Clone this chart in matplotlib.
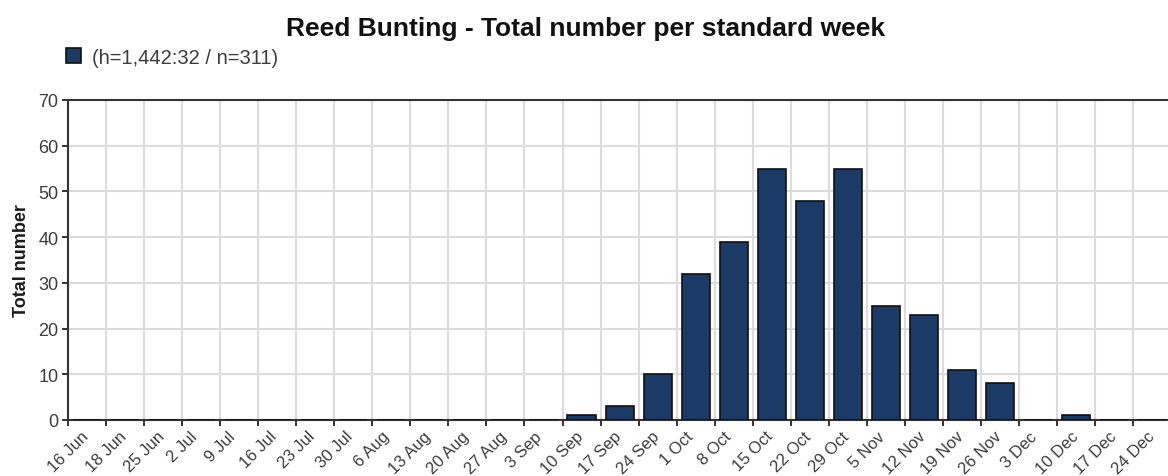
import matplotlib.pyplot as plt
import numpy as np

plt.rcParams['font.family'] = ['Liberation Sans', 'DejaVu Sans']

# weekly categories and counts
weeks = ['16 Jun', '18 Jun', '25 Jun', '2 Jul', '9 Jul', '16 Jul', '23 Jul', '30 Jul',
         '6 Aug', '13 Aug', '20 Aug', '27 Aug', '3 Sep', '10 Sep', '17 Sep', '24 Sep',
         '1 Oct', '8 Oct', '15 Oct', '22 Oct', '29 Oct', '5 Nov', '12 Nov', '19 Nov',
         '26 Nov', '3 Dec', '10 Dec', '17 Dec', '24 Dec']
counts = [0, 0, 0, 0, 0, 0, 0, 0,
          0, 0, 0, 0, 0, 1, 3, 10,
          32, 39, 55, 48, 55, 25, 23, 11,
          8, 0, 1, 0, 0]
yticks = [0, 10, 20, 30, 40, 50, 60, 70]

title = 'Reed Bunting - Total number per standard week'
legend_label = '(h=1,442:32 / n=311)'

bar_color = '#1b3a66'
text_color = '#3c3c3c'

W, H = 1168, 477
fig = plt.figure(figsize=(W / 100, H / 100), dpi=100)
# plot area runs off the right edge of the image (last week is cut)
ax = fig.add_axes([68 / W, 1 - 421 / H, (W - 68) / W, (421 - 101) / H])

x = np.arange(len(weeks))
# bars sit between tick marks, each label is on the left boundary of its week
ax.bar(x + 0.5, counts, width=0.74, color=bar_color, edgecolor='#111111',
       linewidth=1.2, zorder=3, label=legend_label)

ax.set_xlim(0, (W - 68) / 38.04)
ax.set_ylim(0, 70)
ax.set_xticks(x)
ax.set_xticklabels(weeks, rotation=45, ha='center', va='top',
                   fontsize=12, color=text_color)
ax.set_yticks(yticks)
ax.set_yticklabels([str(v) for v in yticks], fontsize=13, color=text_color)
ax.tick_params(axis='both', direction='out', length=4, width=1.4, color='#333333')
ax.tick_params(axis='x', pad=2)
ax.tick_params(axis='y', pad=3)

ax.grid(True, color='#dcdcdc', linewidth=1.5, zorder=0)
ax.set_axisbelow(True)

ax.spines['right'].set_visible(False)
for side in ['left', 'bottom', 'top']:
    ax.spines[side].set_color('#333333')
    ax.spines[side].set_linewidth(1.5)

ax.set_ylabel('Total number', fontsize=13, fontweight='bold', color='#1a1a1a', labelpad=6)

fig.text(586 / W, 1 - 36 / H, title, ha='center', va='baseline', fontsize=19,
         fontweight='bold', color='#111111')

ax.legend(loc='center left', bbox_to_anchor=(66 / W, 1 - 58 / H),
          bbox_transform=fig.transFigure, frameon=False,
          fontsize=14.5, handlelength=0.75, handleheight=0.75, handletextpad=0.55,
          labelcolor=text_color, borderaxespad=0, borderpad=0)

fig.savefig('out.png', dpi=100)
